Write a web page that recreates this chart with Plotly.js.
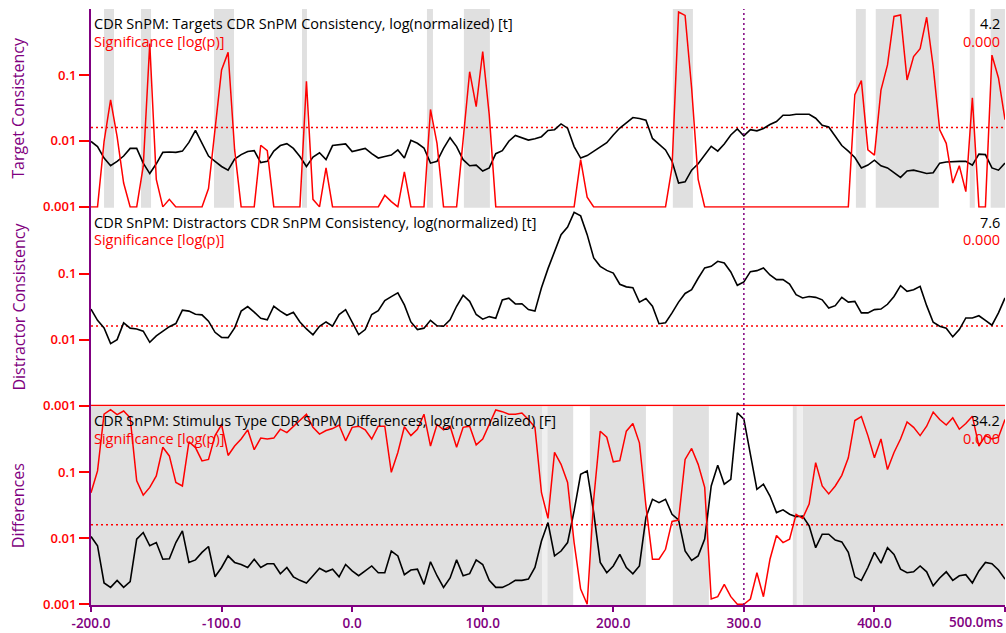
<!DOCTYPE html>
<html>
<head>
<meta charset="utf-8">
<script src="https://cdn.plot.ly/plotly-3.0.1.min.js"></script>
<style>
  html, body { margin: 0; padding: 0; background: #ffffff; }
  #chart { width: 1006px; height: 633px; }
</style>
</head>
<body>
<div id="chart"></div>
<script>
// Time grid of the CDR SnPM waveforms (ms)
const T_START = -200;
const T_STEP = 5;

// Targets: consistency (t, log normalized) and significance p
const targetConsistency = [
  0.0098,0.0082,0.0055,0.0042,0.0049,0.0059,0.0077,0.0077,0.0046,0.0032,
  0.0045,0.0067,0.0068,0.0067,0.0070,0.0095,0.0144,0.0092,0.0059,0.0049,
  0.0041,0.0036,0.0053,0.0062,0.0069,0.0071,0.0047,0.0049,0.0070,0.0085,
  0.0091,0.0077,0.0058,0.0041,0.0057,0.0066,0.0052,0.0085,0.0088,0.0090,
  0.0069,0.0073,0.0077,0.0064,0.0055,0.0058,0.0061,0.0073,0.0055,0.0102,
  0.0092,0.0078,0.0046,0.0049,0.0077,0.0112,0.0082,0.0052,0.0042,0.0043,
  0.0035,0.0039,0.0064,0.0071,0.0099,0.0121,0.0111,0.0103,0.0108,0.0116,
  0.0144,0.0148,0.0181,0.0156,0.0082,0.0055,0.0060,0.0069,0.0080,0.0094,
  0.0123,0.0157,0.0188,0.0226,0.0219,0.0206,0.0109,0.0088,0.0073,0.0049,
  0.0023,0.0024,0.0036,0.0045,0.0061,0.0083,0.0070,0.0090,0.0123,0.0152,
  0.0119,0.0148,0.0142,0.0154,0.0177,0.0197,0.0245,0.0245,0.0254,0.0257,
  0.0254,0.0221,0.0173,0.0163,0.0119,0.0085,0.0070,0.0056,0.0039,0.0043,
  0.0051,0.0042,0.0039,0.0033,0.0028,0.0035,0.0036,0.0034,0.0032,0.0033,
  0.0046,0.0048,0.0049,0.0049,0.0049,0.0043,0.0063,0.0062,0.0039,0.0036,
  0.0046
];
const targetSignificance = [
  0.001,0.001,0.0098,0.042,0.0116,0.0023,0.001,0.001,0.0041,0.3,
  0.0026,0.001,0.0013,0.001,0.001,0.001,0.001,0.001,0.0019,0.0165,
  0.119,0.22,0.0073,0.001,0.001,0.001,0.0086,0.0071,0.001,0.001,
  0.001,0.001,0.001,0.08,0.0013,0.001,0.0039,0.001,0.001,0.001,
  0.001,0.001,0.001,0.001,0.001,0.0015,0.0012,0.001,0.0034,0.001,
  0.001,0.001,0.030,0.0092,0.001,0.001,0.001,0.0104,0.112,0.033,
  0.226,0.0248,0.001,0.001,0.001,0.001,0.001,0.001,0.001,0.001,
  0.001,0.001,0.001,0.001,0.001,0.0052,0.0014,0.001,0.001,0.001,
  0.001,0.001,0.001,0.001,0.001,0.001,0.001,0.001,0.001,0.004,
  0.9,0.8,0.063,0.0026,0.001,0.001,0.001,0.001,0.001,0.001,
  0.001,0.001,0.001,0.001,0.001,0.001,0.001,0.001,0.001,0.001,
  0.001,0.001,0.001,0.001,0.001,0.001,0.001,0.050,0.082,0.0073,
  0.0061,0.059,0.142,0.77,0.81,0.084,0.19,0.25,0.75,0.134,
  0.0147,0.0092,0.0023,0.0042,0.0017,0.045,0.001,0.001,0.2,0.09,
  0.021
];

// Distractors: consistency; significance stays at the floor over the whole epoch
const distractorConsistency = [
  0.029,0.0196,0.015,0.0087,0.010,0.0179,0.0149,0.0145,0.0134,0.0091,
  0.0114,0.0132,0.0157,0.0175,0.028,0.027,0.0242,0.0237,0.019,0.0129,
  0.0108,0.0107,0.015,0.027,0.0316,0.026,0.021,0.020,0.032,0.027,
  0.0234,0.026,0.0185,0.0145,0.0118,0.0159,0.0185,0.016,0.024,0.0285,
  0.0183,0.0119,0.0142,0.024,0.0275,0.039,0.0449,0.051,0.0335,0.0185,
  0.0142,0.0149,0.0196,0.0162,0.0159,0.020,0.032,0.047,0.038,0.024,
  0.0204,0.0223,0.021,0.040,0.0425,0.0347,0.035,0.0285,0.027,0.061,
  0.119,0.218,0.39,0.51,0.85,0.75,0.39,0.173,0.129,0.112,
  0.102,0.069,0.063,0.061,0.037,0.042,0.032,0.0174,0.018,0.0254,
  0.037,0.050,0.057,0.085,0.122,0.129,0.154,0.145,0.106,0.0665,
  0.0748,0.107,0.111,0.122,0.0955,0.081,0.081,0.0697,0.048,0.0428,
  0.045,0.0437,0.040,0.030,0.0327,0.0437,0.037,0.038,0.0254,0.0254,
  0.0285,0.029,0.0343,0.045,0.0658,0.054,0.057,0.064,0.0327,0.0183,
  0.0159,0.0149,0.011,0.0142,0.0213,0.0213,0.023,0.0196,0.0165,0.0254,
  0.0428
];
const distractorSigTimes = [-200, 500];
const distractorSignificance = [0.001, 0.001];

// Stimulus type differences: F (log normalized) and significance p
const differenceF = [
  0.0106,0.0077,0.0021,0.0018,0.0023,0.0018,0.0022,0.0097,0.0122,0.0077,
  0.0086,0.0048,0.0049,0.0086,0.0129,0.0043,0.0047,0.0061,0.0075,0.0026,
  0.0036,0.0054,0.0043,0.0040,0.0036,0.0048,0.0036,0.0041,0.0041,0.0029,
  0.0036,0.0026,0.0023,0.0021,0.0027,0.0035,0.0031,0.0034,0.0026,0.0040,
  0.0032,0.0027,0.0032,0.0038,0.0030,0.0030,0.0064,0.0054,0.0028,0.0033,
  0.0034,0.0020,0.0044,0.0027,0.0018,0.0025,0.0047,0.0027,0.0029,0.0047,
  0.0040,0.0023,0.0018,0.0018,0.0020,0.0023,0.0023,0.0024,0.0036,0.0091,
  0.0173,0.0054,0.0064,0.0086,0.026,0.093,0.105,0.0245,0.0043,0.0030,
  0.0038,0.0057,0.0036,0.0029,0.0038,0.0206,0.039,0.0347,0.039,0.0231,
  0.019,0.0064,0.0046,0.0054,0.0097,0.062,0.128,0.066,0.078,0.8,
  0.64,0.177,0.055,0.066,0.0437,0.0245,0.027,0.0231,0.0212,0.0217,
  0.0154,0.0072,0.0115,0.0115,0.0094,0.0088,0.0061,0.0026,0.0023,0.0036,
  0.0061,0.0042,0.0072,0.0057,0.0034,0.0030,0.0031,0.0038,0.0031,0.0019,
  0.0025,0.0031,0.0023,0.0027,0.0028,0.0021,0.0032,0.0043,0.0041,0.0033,
  0.0024
];
const differenceSignificance = [
  0.049,0.105,0.76,0.89,0.75,0.85,0.67,0.074,0.045,0.059,
  0.088,0.24,0.177,0.070,0.062,0.29,0.237,0.149,0.157,0.36,
  0.53,0.18,0.25,0.32,0.44,0.22,0.33,0.32,0.33,0.45,
  0.40,0.50,0.62,0.76,0.48,0.38,0.43,0.46,0.52,0.30,
  0.48,0.50,0.44,0.32,0.50,0.50,0.10,0.2,0.49,0.36,
  0.45,0.76,0.25,0.53,0.44,0.50,0.24,0.48,0.50,0.26,
  0.32,0.53,0.88,0.83,0.76,0.76,0.79,0.63,0.48,0.049,
  0.02,0.20,0.132,0.070,0.0086,0.0017,0.001,0.039,0.42,0.34,
  0.144,0.15,0.42,0.55,0.28,0.031,0.0048,0.0048,0.0068,0.018,
  0.0189,0.157,0.23,0.132,0.059,0.0012,0.0013,0.0020,0.0013,0.001,
  0.001,0.0012,0.0030,0.0013,0.0048,0.011,0.0086,0.0097,0.023,0.020,
  0.033,0.14,0.062,0.047,0.062,0.090,0.166,0.61,0.70,0.36,
  0.166,0.32,0.11,0.2,0.32,0.58,0.48,0.36,0.5,0.82,
  0.63,0.52,0.67,0.45,0.55,0.71,0.25,0.36,0.32,0.34,
  0.63
];

// Significance threshold, cursor time and shaded intervals (ms)
const threshold = 0.016;
const cursorTime = 300;
const targetBands = [[-190,-182.4],[-161.7,-154],[-105.8,-90.5],[-38.4,-34.6],[57.3,61.9],
  [85.6,105.5],[245.6,261],[385.8,393.4],[401,449.3],[473,476.9],[489,500]];
const differenceBands = [[-200,145.8],[149.4,169.3],[182.1,225],[245.6,273.2],[337.5,340.6],[345.2,500]];
const differenceEdgeBands = [[145.8,149.4],[340.6,345.2]];

// Panel captions and readouts
const panelTitles = [
  'CDR SnPM: Targets CDR SnPM Consistency, log(normalized) [t]',
  'CDR SnPM: Distractors CDR SnPM Consistency, log(normalized) [t]',
  'CDR SnPM: Stimulus Type CDR SnPM Differences, log(normalized) [F]'
];
const sigCaption = 'Significance [log(p)]';
const peakValues = ['4.2', '7.6', '34.2'];
const sigValues = ['0.000', '0.000', '0.000'];
const axisTitles = ['Target Consistency', 'Distractor Consistency', 'Differences'];
const yTickVals = [0.001, 0.01, 0.1];
const yTickText = ['0.001', '0.01', '0.1'];
const xTickVals = [-200, -100, 0, 100, 200, 300, 400, 500];
const xTickText = ['-200.0', '-100.0', '0.0', '100.0', '200.0', '300.0', '400.0', ''];
const xEndLabel = '500.0ms';

const times = targetConsistency.map((_, i) => T_START + i * T_STEP);

const PURPLE = '#800080';
const RED = '#ff0000';
const BLACK = '#000000';
const GREY = '#e0e0e0';
const FONT = '"Open Sans", "Noto Sans", sans-serif';

function line(x, y, yaxis, color, width, dash) {
  return {
    type: 'scatter', mode: 'lines', x: x, y: y, xaxis: 'x', yaxis: yaxis,
    line: { color: color, width: width, dash: dash || 'solid' },
    hoverinfo: 'skip', showlegend: false
  };
}

const edge = [T_START, 500];
const data = [
  line(edge, [threshold, threshold], 'y', RED, 1.5, '2px,3px'),
  line(times, targetConsistency, 'y', BLACK, 1.6),
  line(times, targetSignificance, 'y', RED, 1.5),
  line(edge, [threshold, threshold], 'y2', RED, 1.5, '2px,3px'),
  line(times, distractorConsistency, 'y2', BLACK, 1.6),
  line(distractorSigTimes, distractorSignificance, 'y2', RED, 1.5),
  line(edge, [threshold, threshold], 'y3', RED, 1.5, '2px,3px'),
  line(times, differenceF, 'y3', BLACK, 1.6),
  line(times, differenceSignificance, 'y3', RED, 1.5)
];

const shapes = [];
targetBands.forEach(b => shapes.push({
  type: 'rect', xref: 'x', yref: 'y domain', x0: b[0], x1: b[1], y0: 0, y1: 1,
  fillcolor: GREY, line: { width: 0 }, layer: 'below'
}));
differenceBands.forEach(b => shapes.push({
  type: 'rect', xref: 'x', yref: 'y3 domain', x0: b[0], x1: b[1], y0: 0, y1: 1,
  fillcolor: GREY, line: { width: 0 }, layer: 'below'
}));
differenceEdgeBands.forEach(b => shapes.push({
  type: 'rect', xref: 'x', yref: 'y3 domain', x0: b[0], x1: b[1], y0: 0, y1: 1,
  fillcolor: '#f0f0f0', line: { width: 0 }, layer: 'below'
}));
shapes.push({
  type: 'line', xref: 'x', yref: 'paper', x0: cursorTime, x1: cursorTime, y0: 0, y1: 1,
  line: { color: PURPLE, width: 1.5, dash: '2px,3px' }, layer: 'above'
});

const yAxisNames = ['y', 'y2', 'y3'];
const annotations = [];
yAxisNames.forEach((ya, i) => {
  annotations.push({
    xref: 'paper', yref: ya + ' domain', x: 0, y: 1, xanchor: 'left', yanchor: 'middle',
    xshift: 1, yshift: -14.5, showarrow: false, text: panelTitles[i],
    font: { family: FONT, size: 14.5, color: BLACK }
  });
  annotations.push({
    xref: 'paper', yref: ya + ' domain', x: 0, y: 1, xanchor: 'left', yanchor: 'middle',
    xshift: 1, yshift: -32, showarrow: false, text: sigCaption,
    font: { family: FONT, size: 14.5, color: RED }
  });
  annotations.push({
    xref: 'paper', yref: ya + ' domain', x: 1, y: 1, xanchor: 'right', yanchor: 'middle',
    xshift: -3, yshift: -14.5, showarrow: false, text: peakValues[i],
    font: { family: FONT, size: 14.5, color: BLACK }
  });
  annotations.push({
    xref: 'paper', yref: ya + ' domain', x: 1, y: 1, xanchor: 'right', yanchor: 'middle',
    xshift: -3, yshift: -32, showarrow: false, text: sigValues[i],
    font: { family: FONT, size: 14.5, color: RED }
  });
});
annotations.push({
  xref: 'paper', yref: 'paper', x: 1, y: 0, xanchor: 'right', yanchor: 'top',
  yshift: -6, showarrow: false, text: xEndLabel,
  font: { family: FONT, size: 13.5, color: PURPLE, weight: 600 }
});

function yAxis(domain, title) {
  return {
    type: 'log', domain: domain, range: [-3.012, 0], anchor: 'x',
    showline: true, linecolor: PURPLE, linewidth: 2,
    ticks: 'outside', tickcolor: RED, ticklen: 10, tickwidth: 2,
    tickvals: yTickVals, ticktext: yTickText,
    tickfont: { family: FONT, size: 13, color: RED, weight: 600 },
    showgrid: false, zeroline: false, fixedrange: true,
    title: { text: title, font: { family: FONT, size: 16, color: PURPLE }, standoff: 14 }
  };
}

const layout = {
  width: 1006, height: 633,
  margin: { l: 91, r: 1, t: 9, b: 28 },
  paper_bgcolor: '#ffffff', plot_bgcolor: '#ffffff',
  font: { family: FONT },
  showlegend: false, hovermode: false,
  xaxis: {
    domain: [0, 1], range: [T_START, 500], anchor: 'y3',
    showline: true, linecolor: PURPLE, linewidth: 2,
    ticks: 'outside', tickcolor: PURPLE, ticklen: 5, tickwidth: 2,
    tickvals: xTickVals, ticktext: xTickText,
    tickfont: { family: FONT, size: 13.5, color: PURPLE, weight: 600 },
    showgrid: false, zeroline: false, fixedrange: true
  },
  yaxis: yAxis([2 / 3, 1], axisTitles[0]),
  yaxis2: yAxis([1 / 3, 2 / 3], axisTitles[1]),
  yaxis3: yAxis([0, 1 / 3], axisTitles[2]),
  shapes: shapes,
  annotations: annotations
};

Plotly.newPlot('chart', data, layout, { displayModeBar: false, staticPlot: true });
</script>
</body>
</html>
